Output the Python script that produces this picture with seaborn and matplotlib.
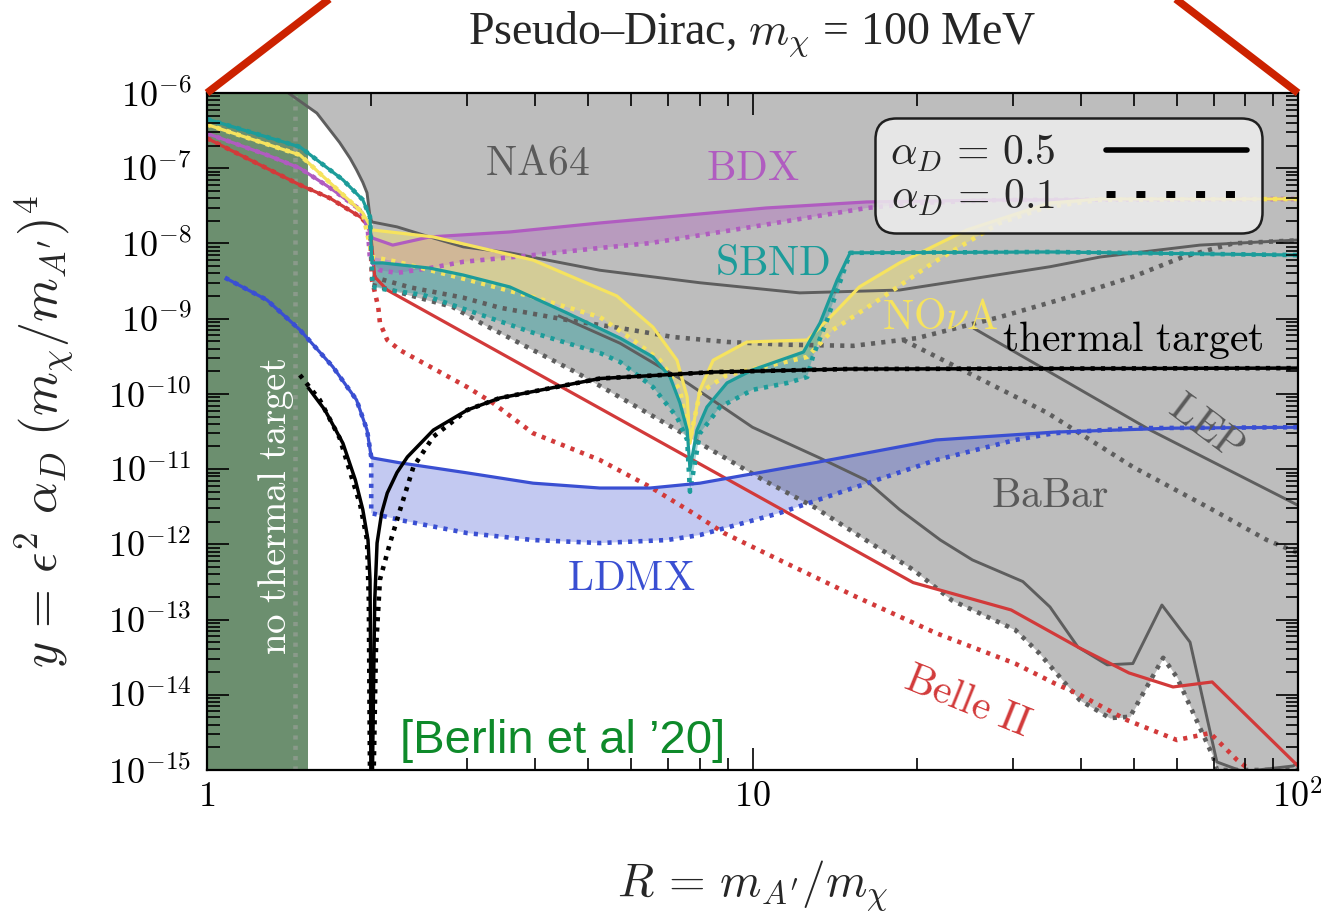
import numpy as np
import seaborn as sns
import matplotlib.pyplot as plt
from matplotlib.lines import Line2D
from matplotlib.ticker import LogLocator, FuncFormatter, NullFormatter, FixedLocator, FixedFormatter

# values: x = R = m_A'/m_chi, y = eps^2 alpha_D (m_chi/m_A')^4
na64_R = [1.41, 1.59, 1.75, 1.83, 1.88, 1.93, 1.965, 1.99, 2.006, 2.23, 2.56, 2.95, 3.59, 5.25, 8.01, 12.2, 18.6, 24.7, 35.1, 43.4, 66.1, 100]
na64_y = [1e-6, 5.4e-7, 2.2e-7, 1.35e-7, 9.5e-8, 6.5e-8, 4.7e-8, 2.25e-8, 1.93e-8, 1.66e-8, 1.22e-8, 9.0e-9, 7.5e-9, 4.4e-9, 3.0e-9, 2.2e-9, 2.4e-9, 3.3e-9, 4.9e-9, 6.6e-9, 9.5e-9, 1.11e-8]
na64d_R = [2.01, 2.36, 2.95, 3.44, 4.57, 5.72, 7.15, 8.98, 11.6, 15.3, 20.0, 28.4, 37.7, 49.8, 61.5, 76.0, 100]
na64d_y = [3.6e-9, 2.6e-9, 1.9e-9, 1.4e-9, 9.6e-10, 7.5e-10, 5.7e-10, 4.9e-10, 4.5e-10, 4.35e-10, 5.5e-10, 1.05e-9, 1.9e-9, 3.6e-9, 6.6e-9, 1.0e-8, 1.1e-8]

babar_R = [4.40, 5.72, 7.59, 10.0, 13.3, 16.1, 18.6, 22.1, 25.3, 31.3, 35.1, 39.5, 44.7, 49.8, 56.3, 63.4, 71.0, 79.3, 97.9, 100]
babar_y = [1.1e-9, 4.7e-10, 1.4e-10, 3.6e-11, 1.4e-11, 7.2e-12, 2.9e-12, 1.14e-12, 6.2e-13, 3.2e-13, 1.47e-13, 4.3e-14, 2.5e-14, 2.6e-14, 1.56e-13, 5.0e-14, 1.28e-15, 9.5e-16, 1.13e-15, 1.24e-15]
babard_R = [2.01, 2.82, 3.23, 4.77, 6.41, 8.01, 10.45, 13.0, 16.1, 19.7, 23.2, 30.3, 33.5, 39.8, 45.2, 49.2, 56.6, 60.0, 69.9, 71.0, 100]
babard_y = [2.8e-9, 1.43e-9, 8.2e-10, 1.9e-10, 5.6e-11, 2.2e-11, 7.2e-12, 3.1e-12, 1.15e-12, 4.6e-13, 1.8e-13, 7.3e-14, 3.6e-14, 8.5e-15, 4.9e-15, 5.1e-15, 3.1e-14, 1.7e-14, 1.5e-15, 1e-15, 1e-15]

lep_R = [25.4, 53.6, 100]
lep_y = [7.5e-10, 3.3e-11, 3.3e-12]
lepd_R = [18.9, 34.7, 49.8, 69.6, 87.7, 100]
lepd_y = [5.2e-10, 5.6e-11, 1.07e-11, 2.9e-12, 1.14e-12, 7.7e-13]

therm_R = [1.53, 1.645, 1.775, 1.87, 1.93, 1.973, 1.99, 1.994, 1.997, 2.01, 2.024, 2.03, 2.05, 2.09, 2.14, 2.23, 2.33, 2.60, 3.00, 3.44, 5.25, 8.5, 15.0, 100]
therm_y = [1.23e-10, 6.1e-11, 2.2e-11, 7.2e-12, 2.9e-12, 1.14e-12, 3.4e-13, 3.9e-14, 8e-16, 8e-16, 3.9e-14, 1.8e-13, 1.04e-12, 2.6e-12, 4.8e-12, 9.0e-12, 1.45e-11, 3.3e-11, 6.1e-11, 8.8e-11, 1.6e-10, 1.95e-10, 2.14e-10, 2.2e-10]
thermd_R = [1.48, 1.61, 1.75, 1.91, 1.965, 1.98, 1.99, 2.02, 2.04, 2.075, 2.165, 2.26, 2.39, 2.60, 3.00, 3.44, 5.25, 8.5, 15.0, 100]
thermd_y = [1.78e-10, 8.3e-11, 2.6e-11, 3.3e-12, 1.14e-12, 1.8e-13, 8e-16, 8e-16, 3.9e-14, 3.4e-13, 1.04e-12, 2.9e-12, 1.07e-11, 2.7e-11, 6.1e-11, 8.8e-11, 1.6e-10, 1.95e-10, 2.14e-10, 2.2e-10]

ldmx_R = [1.079, 1.288, 1.48, 1.70, 1.88, 1.965, 2.0, 2.006, 2.26, 3.00, 3.96, 5.25, 6.49, 8.01, 13.2, 21.7, 35.7, 58.7, 100]
ldmx_y = [3.5e-9, 1.77e-9, 7.1e-10, 2.3e-10, 8.3e-11, 3.3e-11, 1.45e-11, 1.41e-11, 1.21e-11, 8.9e-12, 6.5e-12, 5.6e-12, 5.6e-12, 6.5e-12, 1.24e-11, 2.44e-11, 3.1e-11, 3.5e-11, 3.6e-11]
ldmxd_R = [1.079, 1.288, 1.48, 1.70, 1.88, 1.965, 2.0, 2.0, 2.26, 3.00, 3.96, 5.25, 6.97, 8.01, 11.2, 15.5, 21.7, 30.3, 35.7, 49.8, 100]
ldmxd_y = [3.5e-9, 1.77e-9, 7.1e-10, 2.3e-10, 8.3e-11, 3.3e-11, 1.45e-11, 2.6e-12, 2.1e-12, 1.41e-12, 1.14e-12, 1.04e-12, 1.14e-12, 1.33e-12, 2.6e-12, 5.8e-12, 1.32e-11, 2.44e-11, 3.0e-11, 3.5e-11, 3.6e-11]

belle_R = [1.0, 1.48, 1.68, 1.91, 1.99, 2.03, 2.14, 19.7, 29.8, 39.5, 49.0, 59.0, 69.6, 100]
belle_y = [2.5e-7, 6.0e-8, 4.0e-8, 2.25e-8, 1.66e-8, 3.6e-9, 2.4e-9, 3.1e-13, 1.34e-13, 4.3e-14, 1.95e-14, 1.27e-14, 1.48e-14, 1.13e-15]
belled_R = [1.0, 1.48, 1.68, 1.91, 1.99, 2.006, 2.06, 2.075, 2.14, 2.26, 3.00, 3.34, 3.96, 5.25, 6.49, 7.78, 8.87, 11.2, 15.5, 21.7, 30.3, 35.7, 39.8, 48.6, 60.0, 69.0, 77.3, 81.6, 90]
belled_y = [2.5e-7, 6.0e-8, 4.0e-8, 2.25e-8, 1.66e-8, 3.3e-9, 1.43e-9, 8.8e-10, 5.2e-10, 3.8e-10, 1.23e-10, 7.6e-11, 3.0e-11, 1.32e-11, 5.8e-12, 2.6e-12, 1.41e-12, 6.2e-13, 2.0e-13, 6.6e-14, 2.6e-14, 1.43e-14, 1.0e-14, 4.6e-15, 2.5e-15, 3.1e-15, 1.36e-15, 1.0e-15, 5e-16]

bdx_R = [1.0, 1.288, 1.48, 1.68, 1.91, 1.97, 2.01, 2.19, 2.56, 3.59, 5.25, 10.6, 16.2, 28.4, 100]
bdx_y = [2.9e-7, 1.5e-7, 1.0e-7, 5.5e-8, 2.8e-8, 1.66e-8, 1.18e-8, 9.5e-9, 1.22e-8, 1.42e-8, 1.87e-8, 2.96e-8, 3.56e-8, 3.78e-8, 3.9e-8]
bdxd_R = [1.0, 1.288, 1.48, 1.68, 1.91, 1.97, 1.99, 2.075, 2.23, 2.56, 2.95, 3.49, 3.96, 5.25, 6.49, 9.21, 16.2, 20.3, 28.4, 100]
bdxd_y = [2.9e-7, 1.5e-7, 1.0e-7, 5.5e-8, 2.8e-8, 1.66e-8, 6.0e-9, 4.4e-9, 4.05e-9, 4.7e-9, 5.7e-9, 6.4e-9, 7.0e-9, 8.7e-9, 1.01e-8, 1.51e-8, 2.96e-8, 3.45e-8, 3.78e-8, 3.9e-8]

sbnd_R = [1.0, 1.48, 1.775, 1.93, 1.99, 2.006, 2.10, 2.56, 2.95, 3.59, 4.57, 5.72, 6.57, 7.06, 7.36, 7.59, 7.68, 7.91, 8.25, 8.98, 10.0, 12.4, 13.3, 14.3, 15.1, 35.1, 100]
sbnd_y = [4.5e-7, 1.92e-7, 7.0e-8, 3.8e-8, 2.25e-8, 5.5e-9, 5.5e-9, 4.7e-9, 3.8e-9, 2.64e-9, 1.19e-9, 5.5e-10, 3.1e-10, 1.68e-10, 7.6e-11, 3.3e-11, 1.0e-11, 3.3e-11, 6.7e-11, 1.4e-10, 2.08e-10, 3.6e-10, 8.8e-10, 3.3e-9, 7.5e-9, 7.7e-9, 7.0e-9]
sbndd_R = [1.0, 1.48, 1.775, 1.93, 1.99, 2.006, 2.01, 2.15, 2.49, 3.00, 3.96, 5.25, 5.72, 6.57, 7.27, 7.59, 7.68, 8.01, 8.72, 10.0, 11.6, 12.6, 12.9, 13.7, 14.3, 15.1, 35.1, 100]
sbndd_y = [4.5e-7, 1.92e-7, 7.0e-8, 3.8e-8, 2.25e-8, 4.9e-9, 2.64e-9, 2.4e-9, 2.07e-9, 1.3e-9, 6.5e-10, 3.5e-10, 2.65e-10, 1.23e-10, 4.9e-11, 2.44e-11, 5.0e-12, 3.0e-11, 6.7e-11, 1.13e-10, 1.4e-10, 1.68e-10, 3.1e-10, 9.6e-10, 2.4e-9, 7.5e-9, 7.7e-9, 7.0e-9]

nova_R = [1.0, 1.48, 1.93, 2.01, 2.60, 3.96, 5.64, 6.57, 7.27, 7.59, 7.68, 8.01, 8.47, 9.77, 12.6, 14.3, 15.7, 18.6, 24.7, 35.1, 43.4, 100]
nova_y = [3.8e-7, 1.5e-7, 2.54e-8, 1.51e-8, 1.22e-8, 6.0e-9, 2.0e-9, 7.7e-10, 2.8e-10, 9.1e-11, 2.2e-11, 1.13e-10, 2.8e-10, 4.9e-10, 5.2e-10, 1.3e-9, 2.64e-9, 5.5e-9, 1.51e-8, 3.45e-8, 3.9e-8, 3.9e-8]
novad_R = [1.0, 1.48, 1.93, 2.01, 2.23, 3.00, 3.96, 5.25, 6.04, 6.77, 7.36, 7.68, 8.01, 8.98, 10.8, 12.6, 14.05, 17.35, 21.4, 28.4, 34.7, 43.4, 100]
novad_y = [3.8e-7, 1.5e-7, 2.54e-8, 6.6e-9, 5.7e-9, 3.3e-9, 1.94e-9, 1.05e-9, 5.2e-10, 2.8e-10, 1.13e-10, 2.44e-11, 1.04e-10, 1.78e-10, 2.4e-10, 3.1e-10, 7.1e-10, 1.94e-9, 5.5e-9, 1.87e-8, 3.05e-8, 3.8e-8, 3.9e-8]

no_thermal_R = 1.53
sep_line_R = 1.45

GRAY, GLINE = '#bdbdbd', '#5e5e5e'
TEAL, YEL, PURP, BLUE, RED = '#1c9c9a', '#f6e35e', '#b05cc0', '#3a4fd2', '#d23a3a'
DOT = (0, (0.9, 1.35))

sns.set_style('ticks')
plt.rcParams['font.family'] = ['Liberation Serif', 'DejaVu Sans']
plt.rcParams['mathtext.fontset'] = 'cm'

fig = plt.figure(figsize=(13.21, 9.16), dpi=100)
ax = fig.add_axes([0.1567, 0.1594, 0.8259, 0.7391])
ax.set(xscale='log', yscale='log')
ax.set_axisbelow(False)


def curve(R, y, color, dotted=False, lw=2.3, z=4):
    sns.lineplot(x=R, y=y, sort=False, estimator=None, color=color, ax=ax,
                 linewidth=3.3 if dotted else lw, linestyle=DOT if dotted else '-',
                 solid_capstyle='butt', dash_capstyle='butt', zorder=z, legend=False)


def band(R1, y1, R2, y2, color, alpha):
    ax.fill(list(R1) + list(R2)[::-1], list(y1) + list(y2)[::-1],
            color=color, alpha=alpha, lw=0, zorder=2)


# excluded region (gray)
edge_R = na64_R[:9] + babard_R
edge_y = na64_y[:9] + babard_y
ax.fill_between(edge_R, edge_y, 1e-6, color=GRAY, lw=0, zorder=1)

# no thermal target band
ax.axvspan(1, no_thermal_R, color='#6c8f6f', lw=0, zorder=1.5)
ax.axvline(sep_line_R, color='#8a9a8a', lw=3.3, linestyle=DOT, zorder=1.6)

band(bdx_R, bdx_y, bdxd_R, bdxd_y, PURP, 0.35)
band(nova_R, nova_y, novad_R, novad_y, YEL, 0.4)
band(sbnd_R, sbnd_y, sbndd_R, sbndd_y, TEAL, 0.4)
band(ldmx_R, ldmx_y, ldmxd_R, ldmxd_y, BLUE, 0.3)

for R, y, d in [(na64_R, na64_y, False), (na64d_R, na64d_y, True), (babar_R, babar_y, False),
                (babard_R, babard_y, True), (lep_R, lep_y, False), (lepd_R, lepd_y, True)]:
    curve(R, y, GLINE, d, lw=2.1, z=3)

for R, y, Rd, yd, c in [(belle_R, belle_y, belled_R, belled_y, RED),
                        (bdx_R, bdx_y, bdxd_R, bdxd_y, PURP),
                        (nova_R, nova_y, novad_R, novad_y, YEL),
                        (sbnd_R, sbnd_y, sbndd_R, sbndd_y, TEAL),
                        (ldmx_R, ldmx_y, ldmxd_R, ldmxd_y, BLUE)]:
    curve(Rd, yd, c, True)
    curve(R, y, c)

curve(thermd_R, thermd_y, 'black', True, z=5)
curve(therm_R, therm_y, 'black', lw=2.5, z=5)

ax.set_xlim(1, 100)
ax.set_ylim(1e-15, 1e-6)

# labels on the plot
lab = dict(fontsize=30, ha='center', va='center', zorder=6)
ax.text(4.03, 1.1e-7, r'$\mathrm{NA64}$', color='#5a5a5a', **lab)
ax.text(10.0, 9.5e-8, r'$\mathrm{BDX}$', color=PURP, **lab)
ax.text(10.9, 5.2e-9, r'$\mathrm{SBND}$', color=TEAL, **lab)
ax.text(22.1, 1.0e-9, r'$\mathrm{NO}\nu\mathrm{A}$', color=YEL, **lab)
ax.text(49.8, 5.2e-10, r'$\mathrm{thermal\ target}$', color='black', **lab)
ax.text(67.5, 3.5e-11, r'$\mathrm{LEP}$', color='#5a5a5a', rotation=-37, **lab)
ax.text(35.1, 4.3e-12, r'$\mathrm{BaBar}$', color='#5a5a5a', **lab)
ax.text(6.0, 3.4e-13, r'$\mathrm{LDMX}$', color=BLUE, **lab)
ax.text(24.7, 7.8e-15, r'$\mathrm{Belle\ II}$', color=RED, rotation=-22, **lab)
ax.text(1.34, 3.2e-12, r'$\mathrm{no\ thermal\ target}$', color='white', fontsize=28,
        rotation=90, ha='center', va='center', zorder=6)
ax.text(4.48, 2.4e-15, '[Berlin et al \u201920]', color='#0e8a2a', fontsize=34,
        family='Liberation Sans', ha='center', va='center', zorder=6)

# legend
hs = [Line2D([], [], color='black', lw=4),
      Line2D([], [], color='black', lw=5, linestyle=(0, (1.3, 3.0)))]
leg = ax.legend(hs, [r'$\alpha_D\,=\,0.5$', r'$\alpha_D\,=\,0.1$'], loc='upper right',
                bbox_to_anchor=(0.967, 0.963), fontsize=30, handlelength=3.4, markerfirst=False,
                fancybox=True, framealpha=0.85, facecolor='#eeeeee', edgecolor='black',
                borderpad=0.35, labelspacing=0.1, handletextpad=1.2, borderaxespad=0)
leg.get_frame().set_linewidth(1.8)
leg.get_frame().set_boxstyle('round,pad=0,rounding_size=0.5')
leg.set_zorder(10)

# axes styling
ax.xaxis.set_major_locator(FixedLocator([1, 10, 100]))
ax.xaxis.set_major_formatter(FixedFormatter([r'$1$', r'$10$', r'$10^{2}$']))
ax.xaxis.set_minor_locator(LogLocator(base=10, subs=np.arange(2, 10), numticks=100))
ax.xaxis.set_minor_formatter(NullFormatter())
ax.yaxis.set_major_locator(LogLocator(base=10, numticks=30))
ax.yaxis.set_major_formatter(FuncFormatter(lambda v, p: r'$10^{%d}$' % int(round(np.log10(v)))))
ax.yaxis.set_minor_locator(LogLocator(base=10, subs=np.arange(2, 10), numticks=100))
ax.yaxis.set_minor_formatter(NullFormatter())
ax.tick_params(which='both', direction='in', top=True, right=True, width=1.2, colors='black')
ax.tick_params(which='major', length=16, labelsize=26)
ax.tick_params(which='minor', length=9)
ax.tick_params(axis='y', which='major', pad=11)
ax.tick_params(axis='x', which='major', pad=8)
ax.xaxis.set_zorder(7)
ax.yaxis.set_zorder(7)
for s in ax.spines.values():
    s.set_linewidth(1.6)
    s.set_color('black')
    s.set_zorder(7)

ax.set_xlabel(r'$R\, =\, m_{A^\prime}/m_\chi$', fontsize=34, labelpad=31)
ax.set_ylabel(r'$y\, =\, \epsilon^2\ \alpha_D\ (m_\chi/m_{A^\prime})^4$', fontsize=36, labelpad=24)
ax.set_title('Pseudo\u2013Dirac, $m_{\\chi}$ = 100 MeV', fontsize=33, pad=36)

# zoom guide lines
for x_end in [(0, 0.113), (1, 0.887)]:
    ax.plot(x_end, [1, 1.14], transform=ax.transAxes, clip_on=False,
            color='#cc2200', lw=5.5, solid_capstyle='butt', zorder=8)

fig.savefig('out.png', dpi=100)
